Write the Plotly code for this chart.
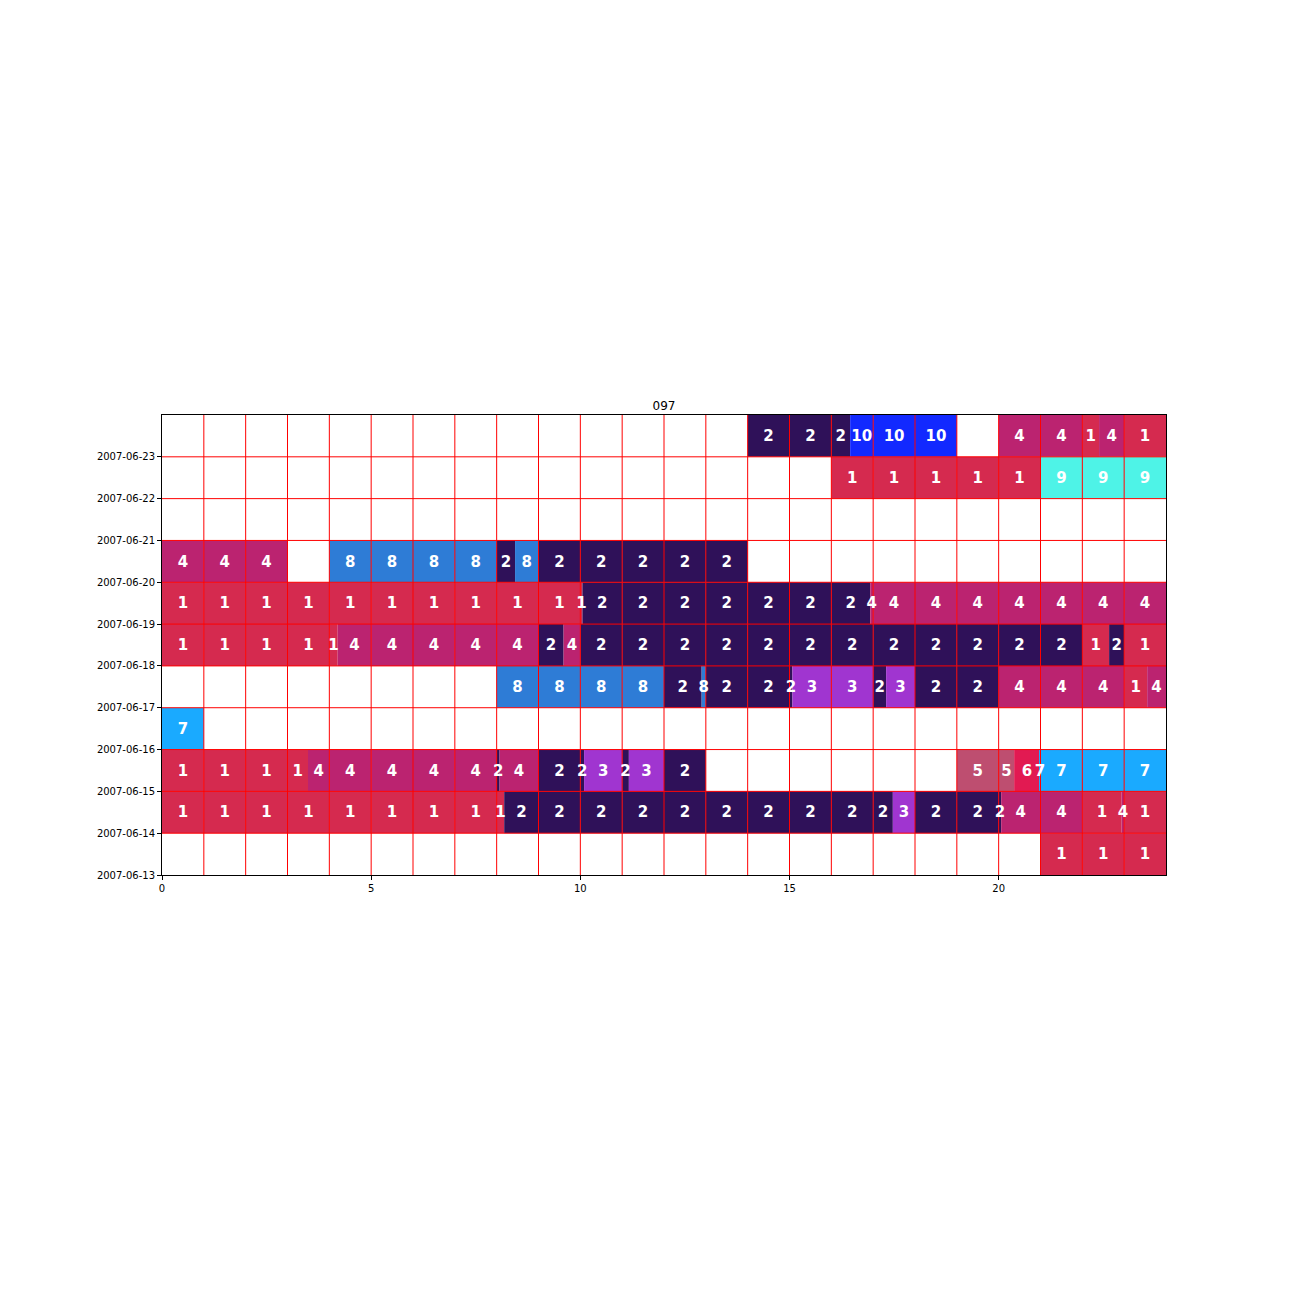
import math
import plotly.graph_objects as go

# ---- data -------------------------------------------------------------
days = ["2007-06-13", "2007-06-14", "2007-06-15", "2007-06-16", "2007-06-17",
        "2007-06-18", "2007-06-19", "2007-06-20", "2007-06-21", "2007-06-22",
        "2007-06-23"]

# runs of activity: row (day index), start hour, end hour, state value
run_day = [0,
           1, 1, 1, 1, 1, 1, 1, 1,
           2, 2, 2, 2, 2, 2, 2, 2, 2, 2, 2, 2,
           3,
           4, 4, 4, 4, 4, 4, 4, 4, 4, 4, 4,
           5, 5, 5, 5, 5, 5, 5, 5,
           6, 6, 6,
           7, 7, 7, 7, 7,
           9, 9,
           10, 10, 10, 10, 10, 10]
run_start = [21,
             0, 8.18, 17.47, 18, 20.06, 22, 22.94, 23,
             0, 3.49, 8, 8.07, 9, 10.09, 11, 11.16, 12, 19, 20.37, 20.98,
             0,
             8, 12, 12.9, 13, 15.07, 17, 17.31, 18, 20, 23, 23.55,
             0, 4.2, 9, 9.6, 10, 22, 22.64, 23,
             0, 10.05, 16.93,
             0, 4, 8, 8.44, 9,
             16, 21,
             14, 16.45, 20, 22, 22.4, 23]
run_end = [24,
           8.18, 17.47, 18, 20.06, 22, 22.94, 23, 24,
           3.49, 8, 8.07, 9, 10.09, 11, 11.16, 12, 13, 20.37, 20.98, 24,
           1,
           12, 12.9, 13, 15.07, 17, 17.31, 18, 20, 23, 23.55, 24,
           4.2, 9, 9.6, 10, 22, 22.64, 23, 24,
           10.05, 16.93, 24,
           3, 8, 8.44, 9, 14,
           21, 24,
           16.45, 19, 22, 22.4, 23, 24]
run_value = [1,
             1, 2, 3, 2, 4, 1, 4, 1,
             1, 4, 2, 4, 2, 3, 2, 3, 2, 5, 6, 7,
             7,
             8, 2, 8, 2, 3, 2, 3, 2, 4, 1, 4,
             1, 4, 2, 4, 2, 1, 2, 1,
             1, 2, 4,
             4, 8, 2, 8, 2,
             1, 9,
             2, 10, 4, 1, 4, 1]

value_colors = {1: "#D52A4F", 2: "#2F1159", 3: "#A035D0", 4: "#BB2370",
                5: "#BE4E70", 6: "#E21A52", 7: "#1AAAFF", 8: "#2E7CD6",
                9: "#4EF3E7", 10: "#1229FF"}

title_text = "097"

# ---- split runs into hourly pieces ------------------------------------
pieces = []  # (row, start, end, value)
for d, s, e, v in zip(run_day, run_start, run_end, run_value):
    cur = s
    while cur < e - 1e-9:
        nxt = min(e, math.floor(cur + 1e-9) + 1)
        pieces.append((d, cur, nxt, v))
        cur = nxt

fig = go.Figure()

for v, col in value_colors.items():
    ps = [p for p in pieces if p[3] == v]
    if not ps:
        continue
    fig.add_trace(go.Bar(
        orientation="h",
        y=[p[0] + 0.5 for p in ps],
        base=[p[1] for p in ps],
        x=[p[2] - p[1] for p in ps],
        width=1,
        marker=dict(color=col, line=dict(width=0)),
        showlegend=False,
        hoverinfo="skip",
    ))

# grid lines drawn above bars
n_rows = len(days)
gx, gy = [], []
for h in range(1, 24):
    gx += [h, h, None]
    gy += [0, n_rows, None]
for r in range(1, n_rows):
    gx += [0, 24, None]
    gy += [r, r, None]
fig.add_trace(go.Scatter(x=gx, y=gy, mode="lines",
                         line=dict(color="#FF0000", width=1),
                         showlegend=False, hoverinfo="skip"))

# labels at piece centres (small downward nudge to centre the glyph box)
label_nudge = 0.035
fig.add_trace(go.Scatter(
    x=[(p[1] + p[2]) / 2 for p in pieces],
    y=[p[0] + 0.5 - label_nudge for p in pieces],
    text=[str(p[3]) for p in pieces],
    mode="text",
    textfont=dict(family="DejaVu Sans", size=15, color="white", weight="bold"),
    showlegend=False, hoverinfo="skip", cliponaxis=False,
))

fig.update_layout(
    width=1296, height=1296,
    margin=dict(l=162, r=130, t=415, b=421),
    paper_bgcolor="white", plot_bgcolor="white",
    barmode="overlay",
    title=dict(text=title_text, x=0.5, xref="paper", xanchor="center",
               y=1, yref="paper", yanchor="bottom", pad=dict(b=5),
               font=dict(family="DejaVu Sans", size=12, color="black")),
    font=dict(family="DejaVu Sans", size=10, color="black"),
)
fig.update_xaxes(range=[0, 24], tick0=0, dtick=5, showgrid=False, zeroline=False,
                 showline=True, mirror=True, linecolor="black", linewidth=1,
                 ticks="outside", ticklen=4, tickcolor="black", tickwidth=1,
                 layer="above traces", tickfont=dict(size=10))
fig.update_yaxes(range=[0, n_rows], tickvals=list(range(n_rows)), ticktext=days,
                 showgrid=False, zeroline=False,
                 showline=True, mirror=True, linecolor="black", linewidth=1,
                 ticks="outside", ticklen=4, tickcolor="black", tickwidth=1,
                 layer="above traces", tickfont=dict(size=10))

fig.write_html("out.html")
